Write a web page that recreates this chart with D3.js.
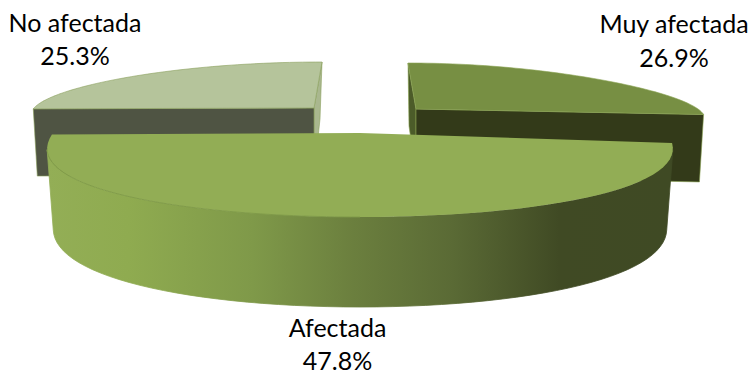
<!DOCTYPE html>
<html><head><meta charset="utf-8">
<script src="https://cdn.jsdelivr.net/npm/d3@7"></script>
<style>html,body{margin:0;background:#fff}svg{display:block}</style></head>
<body><svg id="c" width="750" height="373"></svg>
<script>
const categories = ["Muy afectada", "Afectada", "No afectada"];
const values = [26.9, 47.8, 25.3];
const valueLabels = ["26.9%", "47.8%", "25.3%"];

const topFill = ["#778f43", "#92ad55", "#b5c49b"];
const cutFill = ["#333a19", null, "#4f5443"];
const sideFill = ["#4c5c29", null, "#a9b78e"];
const edge = ["#8aa352", "#7f9a48", "#8aa05c"];

// Projection of each exploded slice: upper rim and lower rim
const rims = [
  {top:{cx:416,cy:109,rx:282,ry:46,skew:-8,k:.2}, bot:{cx:416,cy:176,rx:278,ry:50,skew:-7,k:.2}},
  {top:{cx:360,cy:133,rx:307,ry:84,skew:0,k:.2},  bot:{cx:360,cy:211,rx:301,ry:96,skew:0,k:.2}},
  {top:{cx:314,cy:108,rx:280,ry:46,skew:8,k:.12}, bot:{cx:314,cy:175,rx:276,ry:56,skew:6,k:.12}}
];
const labelPos = [
  {x:674,y1:33,y2:67},
  {x:337.5,y1:337,y2:370},
  {x:75,y1:32,y2:65}
];
const wallStops = [[0,"#93ae56"],[.13,"#8fab50"],[.33,"#7f9949"],[.49,"#6b7f3e"],[.65,"#5a6a35"],[.82,"#404a24"],[1,"#3f4a24"]];

const svg = d3.select("#c");
const grad = svg.append("defs").append("linearGradient").attr("id","wall")
  .attr("gradientUnits","userSpaceOnUse").attr("x1",47).attr("x2",672).attr("y1",0).attr("y2",0);
wallStops.forEach(s=>grad.append("stop").attr("offset",s[0]).attr("stop-color",s[1]));

const arcs = d3.pie().sort(null).value(d=>d)(values);
const pt = (p,t)=>[p.cx+p.rx*Math.sin(t)*(1-p.k*Math.cos(t))+p.skew*Math.cos(t), p.cy-p.ry*Math.cos(t)];
const rim = (p,a,b)=>d3.range(0,61).map(i=>pt(p,a+(b-a)*i/60));
const line = d3.line();
const closed = pts=>line(pts)+"Z";
// The curved wall's outline runs between the widest points of the rim.
const widest = .2;

[0,2,1].forEach(i=>{
  const a=arcs[i], r=rims[i], g=svg.append("g");
  const T=r.top, B=r.bot;
  const apexT=[T.cx,T.cy], apexB=[B.cx,B.cy];
  if(i===1){
    const w0=Math.PI/2+widest, w1=Math.PI*1.5-widest;
    g.append("path").attr("d",closed(rim(T,w0,w1).concat(rim(B,w0,w1).reverse())))
      .attr("fill","url(#wall)").attr("stroke","url(#wall)").attr("stroke-width",.8);
    g.append("path").attr("d",closed([apexT].concat(rim(T,a.startAngle,a.endAngle))))
      .attr("fill",topFill[i]);
    g.append("path").attr("d",line(rim(T,Math.PI,w1)))
      .attr("fill","none").attr("stroke",edge[i]).attr("stroke-width",.9);
  } else {
    const cornerAngle = i===0 ? a.endAngle : a.startAngle;
    const backAngle = i===0 ? a.startAngle : a.endAngle;
    g.append("path").attr("d",closed([pt(T,backAngle),apexT,apexB,pt(B,backAngle)]))
      .attr("fill",sideFill[i]).attr("stroke",edge[i]).attr("stroke-width",.6);
    g.append("path").attr("d",closed([apexT,pt(T,cornerAngle),pt(B,cornerAngle),apexB]))
      .attr("fill",cutFill[i]).attr("stroke",edge[i]).attr("stroke-width",.6);
    g.append("path").attr("d",closed([apexT].concat(rim(T,a.startAngle,a.endAngle))))
      .attr("fill",topFill[i]).attr("stroke",edge[i]).attr("stroke-width",.6);
  }
});

const text = svg.append("g").attr("font-family","Lato, 'Open Sans', sans-serif").attr("font-size",25).attr("fill","#000").attr("text-anchor","middle");
categories.forEach((c,i)=>{
  text.append("text").attr("x",labelPos[i].x).attr("y",labelPos[i].y1).text(c);
  text.append("text").attr("x",labelPos[i].x).attr("y",labelPos[i].y2).text(valueLabels[i]);
});
</script></body></html>
